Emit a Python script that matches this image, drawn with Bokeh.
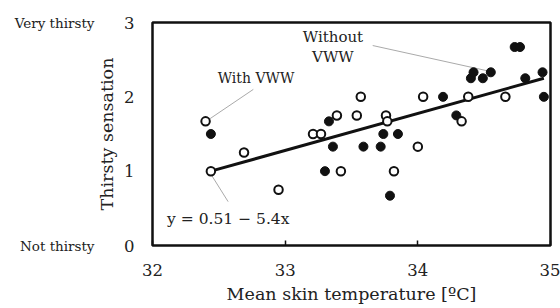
from bokeh.plotting import figure
from bokeh.models import Label, FixedTicker, ColumnDataSource, LinearAxis
from bokeh.embed import file_html
from bokeh.resources import INLINE

# With VWW (open circles)
with_x = [32.40, 32.44, 32.69, 32.95, 33.21, 33.27, 33.39, 33.42, 33.54, 33.57,
          33.76, 33.77, 33.82, 34.00, 34.04, 34.33, 34.38, 34.66]
with_y = [1.67, 1.00, 1.25, 0.75, 1.50, 1.50, 1.75, 1.00, 1.75, 2.00,
          1.75, 1.67, 1.00, 1.33, 2.00, 1.67, 2.00, 2.00]

# Without VWW (filled circles)
without_x = [32.44, 33.30, 33.33, 33.36, 33.59, 33.72, 33.74, 33.85, 33.79, 34.19,
             34.29, 34.40, 34.42, 34.49, 34.55, 34.73, 34.77, 34.81, 34.94, 34.95]
without_y = [1.50, 1.00, 1.67, 1.33, 1.33, 1.33, 1.50, 1.50, 0.67, 2.00,
             1.75, 2.25, 2.33, 2.25, 2.33, 2.67, 2.67, 2.25, 2.33, 2.00]

# Regression line end points
trend_x = [32.44, 34.95]
trend_y = [1.00, 2.25]

x_ticks = [32, 33, 34, 35]
y_ticks = [0, 1, 2, 3]
scale_ticks = [0, 3]
scale_labels = {0: "Not thirsty", 3: "Very thirsty"}

FONT = "DejaVu Serif"
TXT = "#222222"

p = figure(width=560, height=308, x_range=(32, 35), y_range=(0, 3),
           output_backend="svg", toolbar_location=None,
           min_border_left=152, min_border_right=10, min_border_top=22, min_border_bottom=63)
p.background_fill_color = "white"
p.border_fill_color = "white"
p.outline_line_color = "#111111"
p.outline_line_width = 2.5
p.outline_line_alpha = 1
p.xgrid.visible = False
p.ygrid.visible = False

xa = p.xaxis[0]
xa.ticker = FixedTicker(ticks=x_ticks)
xa.axis_line_color = None
xa.major_tick_in = 5
xa.major_tick_out = 0
xa.major_tick_line_color = "#111111"
xa.major_tick_line_width = 1.5
xa.minor_tick_line_color = None
xa.major_label_text_font = FONT
xa.major_label_text_font_size = "16.5px"
xa.major_label_text_color = TXT
xa.major_label_standoff = 18
xa.axis_label = "Mean skin temperature [ºC]"
xa.axis_label_text_font = FONT
xa.axis_label_text_font_size = "17.5px"
xa.axis_label_text_font_style = "normal"
xa.axis_label_text_color = TXT
xa.axis_label_standoff = 5

ya = p.yaxis[0]
ya.ticker = FixedTicker(ticks=y_ticks)
ya.axis_line_color = None
ya.major_tick_in = 0
ya.major_tick_out = 0
ya.minor_tick_line_color = None
ya.major_label_text_font = FONT
ya.major_label_text_font_size = "16.5px"
ya.major_label_text_color = TXT
ya.major_label_standoff = 18
ya.axis_label = "Thirsty sensation"
ya.axis_label_text_font = FONT
ya.axis_label_text_font_size = "17.5px"
ya.axis_label_text_font_style = "normal"
ya.axis_label_text_color = TXT
ya.axis_label_standoff = 4

ya2 = LinearAxis(ticker=FixedTicker(ticks=scale_ticks), major_label_overrides=scale_labels)
ya2.axis_line_color = None
ya2.major_tick_in = 0
ya2.major_tick_out = 0
ya2.minor_tick_line_color = None
ya2.major_label_text_font = FONT
ya2.major_label_text_font_size = "13.5px"
ya2.major_label_text_color = TXT
ya2.major_label_standoff = 0
p.add_layout(ya2, "left")

# leader lines
p.line([32.76, 32.42], [2.10, 1.69], line_color="#aaaaaa", line_width=1)
p.line([33.66, 34.55], [2.69, 2.34], line_color="#aaaaaa", line_width=1)
p.line([32.44, 32.57], [0.96, 0.59], line_color="#aaaaaa", line_width=1)

# trend line
p.line(trend_x, trend_y, line_color="#111111", line_width=3)

src_wo = ColumnDataSource(dict(x=without_x, y=without_y))
src_w = ColumnDataSource(dict(x=with_x, y=with_y))
p.scatter("x", "y", source=src_wo, size=9, fill_color="#111111", line_color="#111111", line_width=1)
p.scatter("x", "y", source=src_w, size=8.5, fill_color="white", line_color="#111111", line_width=2)

def lab(x, y, t, align="center", size="15px"):
    p.add_layout(Label(x=x, y=y, text=t, text_font=FONT, text_font_size=size,
                       text_color=TXT, text_align=align, text_baseline="middle"))

lab(32.78, 2.25, "With VWW", size="14px")
lab(33.36, 2.80, "Without")
lab(33.36, 2.53, "VWW")
lab(32.11, 0.35, "y = 0.51 − 5.4x", align="left", size="15.5px")

open("out.html", "w").write(file_html(p, INLINE))
